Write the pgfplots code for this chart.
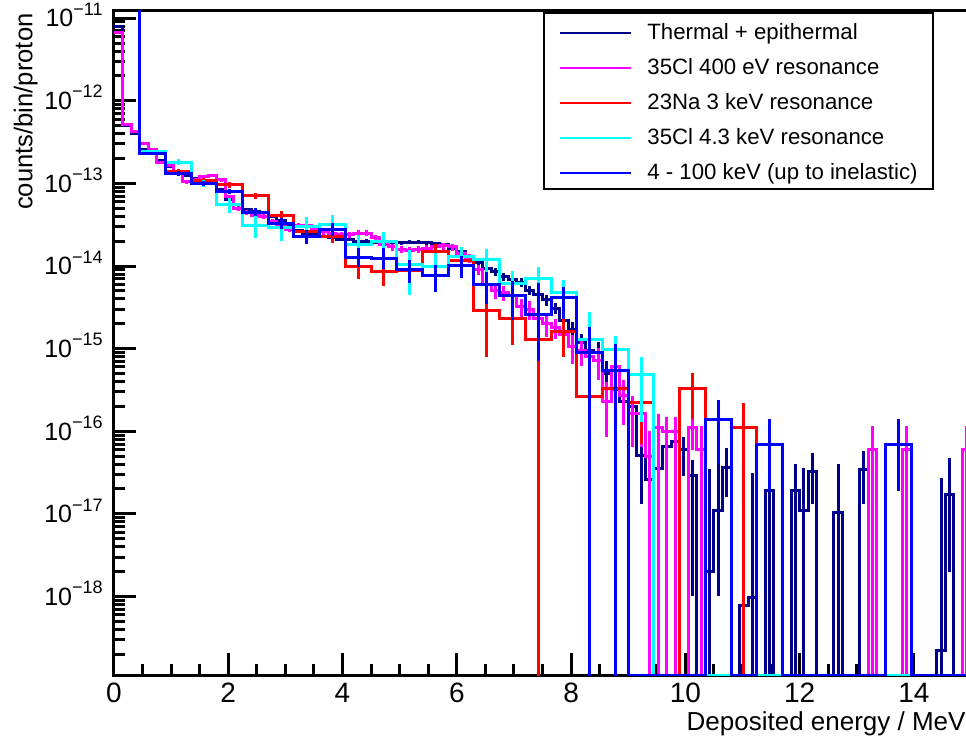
\documentclass[border=0pt]{standalone}
\usepackage{fontspec}
\setmainfont{Liberation Sans}
\usepackage{pgfplots}
\usepackage{pgfplotstable}
\pgfplotsset{compat=1.18}
\definecolor{navyc}{RGB}{0,0,140}
\definecolor{magc}{RGB}{255,0,255}
\definecolor{redc}{RGB}{255,0,0}
\definecolor{cyanc}{RGB}{0,255,255}
\definecolor{bluec}{RGB}{0,0,255}
\newcommand\sups[1]{\raisebox{5.8pt}{\fontsize{9}{9}\selectfont #1}}

% 4 - 100 keV (0.45 MeV bins)
\pgfplotstableread{
x y ep em
-0.225 2e-11 0 0
0.225 2e-11 0 0
0.675 2.3e-13 1e-14 1e-14
1.125 1.32e-13 8e-15 8e-15
1.575 1.0e-13 7e-15 7e-15
2.025 8.0e-14 6e-15 6e-15
2.475 4.5e-14 5e-15 5e-15
2.925 3.3e-14 5e-15 5e-15
3.375 2.3e-14 4.5e-15 4.5e-15
3.825 2.8e-14 5e-15 5e-15
4.275 1.26e-14 4e-15 3e-15
4.725 1.23e-14 4e-15 3e-15
5.175 9.1e-15 2.6e-15 2.8e-15
5.625 7.6e-15 2.8e-15 2.8e-15
6.075 1.02e-14 3e-15 3e-15
6.525 6.0e-15 2.5e-15 2.5e-15
6.975 4.4e-15 2.2e-15 2.2e-15
7.425 2.6e-15 3.6e-15 1.9e-15
7.875 4.1e-15 1.5e-15 1.8e-15
8.325 9.1e-16 9e-16 9.0999e-16
8.775 5.5e-16 6e-16 5.4999e-16
9.225 1.12e-19 0 0
9.675 1.12e-19 0 0
10.125 1.12e-19 0 0
10.575 1.4e-16 1e-16 1e-16
11.025 1.12e-19 0 0
11.475 6.9e-17 7e-17 5e-17
11.925 1.12e-19 0 0
12.375 1.12e-19 0 0
12.825 1.12e-19 0 0
13.275 1.12e-19 0 0
13.725 6.9e-17 7e-17 5e-17
14.175 1.12e-19 0 0
14.625 1.12e-19 0 0
15.075 1.12e-19 0 0
}\tblblue

% 23Na 3 keV (0.45 MeV bins)
\pgfplotstableread{
x y ep em
-0.225 1.5e-11 0 0
0.225 1.5e-11 0 0
0.675 2.3e-13 1.2e-14 1.2e-14
1.125 1.38e-13 1e-14 1e-14
1.575 1.07e-13 8e-15 8e-15
2.025 9.6e-14 7e-15 7e-15
2.475 7.1e-14 6e-15 6e-15
2.925 4.1e-14 5e-15 5e-15
3.375 2.6e-14 4e-15 4e-15
3.825 2.3e-14 4e-15 4e-15
4.275 1.0e-14 3e-15 3e-15
4.725 8.7e-15 3e-15 3e-15
5.175 8.8e-15 3e-15 3e-15
5.625 1.48e-14 3.5e-15 3.5e-15
6.075 1.15e-14 3e-15 3e-15
6.525 2.9e-15 8e-16 2.1e-15
6.975 2.3e-15 1.2e-15 1.2e-15
7.425 1.3e-15 1.3e-15 1.29999e-15
7.875 1.6e-15 8e-16 8e-16
8.325 2.6e-16 2e-16 2e-16
8.775 3.3e-16 2e-16 2e-16
9.225 2.2e-16 1.5e-16 1.5e-16
9.675 1.12e-19 0 0
10.125 3.3e-16 1.8e-16 1.9e-16
10.575 1.12e-19 0 0
11.025 1.1e-16 1.1e-16 1.0999e-16
11.475 1.12e-19 0 0
11.925 1.12e-19 0 0
12.375 1.12e-19 0 0
12.825 1.12e-19 0 0
13.275 1.12e-19 0 0
13.725 1.12e-19 0 0
14.175 1.12e-19 0 0
14.625 1.12e-19 0 0
15.075 1.12e-19 0 0
}\tblred

% 35Cl 4.3 keV (0.45 MeV bins)
\pgfplotstableread{
x y ep em
-0.225 1.5e-11 0 0
0.225 1.5e-11 0 0
0.675 2.4e-13 1.5e-14 1.5e-14
1.125 1.8e-13 1.5e-14 1.5e-14
1.575 1.0e-13 1e-14 1e-14
2.025 5.6e-14 1e-14 1.2e-14
2.475 3.1e-14 1e-14 9e-15
2.925 2.9e-14 9e-15 9e-15
3.375 3.0e-14 9e-15 9e-15
3.825 3.2e-14 9e-15 9e-15
4.275 1.8e-14 6e-15 6e-15
4.725 2.0e-14 6e-15 6e-15
5.175 1.05e-14 5e-15 6e-15
5.625 1.0e-14 4.5e-15 4.5e-15
6.075 1.3e-14 4e-15 4e-15
6.525 1.2e-14 4e-15 4e-15
6.975 6.2e-15 2.5e-15 2.5e-15
7.425 7.1e-15 2.5e-15 2.5e-15
7.875 4.8e-15 2e-15 2e-15
8.325 1.3e-15 1.5e-15 1.1e-15
8.775 9.8e-16 4.5e-16 4.5e-16
9.225 4.9e-16 3e-16 3.6e-16
9.675 1.12e-19 0 0
10.125 1.12e-19 0 0
10.575 1.12e-19 0 0
11.025 1.12e-19 0 0
11.475 1.12e-19 0 0
11.925 1.12e-19 0 0
12.375 1.12e-19 0 0
12.825 1.12e-19 0 0
13.275 1.12e-19 0 0
13.725 1.12e-19 0 0
14.175 1.12e-19 0 0
14.625 1.12e-19 0 0
15.075 1.12e-19 0 0
}\tblcyan

% Thermal + epithermal (0.15 MeV bins)
\pgfplotstableread{
x y ep em
-0.075 8e-12 0 0
0.075 8e-12 0 0
0.225 5e-13 1e-14 1e-14
0.375 4e-13 1e-14 1e-14
0.525 2.6e-13 8e-15 8e-15
0.675 2.3e-13 7e-15 7e-15
0.825 1.9e-13 6e-15 6e-15
0.975 1.6e-13 5e-15 5e-15
1.125 1.4e-13 4e-15 4e-15
1.275 1.25e-13 4e-15 4e-15
1.425 1.15e-13 3.5e-15 3.5e-15
1.575 1.07e-13 3e-15 3e-15
1.725 1.0e-13 3e-15 3e-15
1.875 8.5e-14 2.5e-15 2.5e-15
2.025 6.3e-14 2e-15 2e-15
2.175 5.5e-14 2e-15 2e-15
2.325 4.8e-14 1.5e-15 1.5e-15
2.475 4.6e-14 1.5e-15 1.5e-15
2.625 4.4e-14 1.5e-15 1.5e-15
2.775 4.0e-14 1.5e-15 1.5e-15
2.925 3.6e-14 1.2e-15 1.2e-15
3.075 3.2e-14 1.2e-15 1.2e-15
3.225 2.7e-14 1e-15 1e-15
3.375 2.5e-14 1e-15 1e-15
3.525 2.5e-14 1e-15 1e-15
3.675 2.3e-14 1e-15 1e-15
3.825 2.2e-14 1e-15 1e-15
3.975 2.1e-14 1e-15 1e-15
4.125 2.1e-14 1e-15 1e-15
4.275 2.0e-14 1e-15 1e-15
4.425 2.0e-14 1e-15 1e-15
4.575 1.95e-14 1e-15 1e-15
4.725 1.95e-14 1e-15 1e-15
4.875 1.95e-14 1e-15 1e-15
5.025 1.9e-14 1e-15 1e-15
5.175 1.95e-14 1e-15 1e-15
5.325 1.95e-14 1e-15 1e-15
5.475 1.9e-14 1e-15 1e-15
5.625 1.85e-14 1e-15 1e-15
5.775 1.8e-14 1e-15 1e-15
5.925 1.65e-14 1e-15 1e-15
6.075 1.5e-14 1e-15 1e-15
6.225 1.2e-14 1e-15 1e-15
6.375 1.1e-14 1e-15 1e-15
6.525 9.3e-15 9e-16 9e-16
6.675 8.5e-15 9e-16 9e-16
6.825 7.4e-15 8e-16 8e-16
6.975 6.8e-15 8e-16 8e-16
7.125 6.4e-15 8e-16 8e-16
7.275 5.1e-15 7e-16 7e-16
7.425 4.5e-15 7e-16 7e-16
7.575 3.9e-15 6e-16 6e-16
7.725 3.1e-15 5e-16 5e-16
7.875 2.2e-15 4e-16 4e-16
8.025 1.7e-15 4e-16 4e-16
8.175 1.2e-15 3e-16 3e-16
8.325 9.6e-16 3e-16 3e-16
8.475 9e-16 3e-16 3e-16
8.625 5e-16 2e-16 2e-16
8.775 3.2e-16 1.5e-16 1.5e-16
8.925 2.3e-16 1e-16 1e-16
9.075 2e-16 6e-17 6e-17
9.225 5.1e-17 2e-17 3.8e-17
9.375 2.6e-17 2.5e-17 2.5999e-17
9.525 3.5e-17 2e-17 3.3e-17
9.675 6.6e-17 3e-17 3e-17
9.825 7.6e-17 3e-17 3e-17
9.975 6e-17 2.5e-17 3.1e-17
10.125 2.9e-17 1.6e-17 2.8e-17
10.275 1.12e-19 0 0
10.425 2e-18 3.3e-17 1.9999e-18
10.575 1.1e-17 3e-17 1e-17
10.725 3.6e-17 2.6e-17 2e-17
10.875 1.12e-19 0 0
11.025 7.8e-19 2e-17 7.7999e-19
11.175 9.7e-19 3e-17 9.6999e-19
11.325 1.12e-19 0 0
11.475 1.9e-17 3e-17 1.8999e-17
11.625 1.12e-19 0 0
11.775 1.12e-19 0 0
11.925 1.9e-17 2.1e-17 1.8999e-17
12.075 1.1e-17 2.5e-17 1.0999e-17
12.225 3.3e-17 2.1e-17 2e-17
12.375 1.12e-19 0 0
12.525 1.12e-19 0 0
12.675 1.05e-17 3e-17 1.0499e-17
12.825 1.12e-19 0 0
12.975 1.12e-19 0 0
13.125 3.4e-17 2.4e-17 2.1e-17
13.275 1.12e-19 0 0
13.425 1.12e-19 0 0
13.575 1.12e-19 0 0
13.725 1.12e-19 0 0
13.875 1.12e-19 0 0
14.025 1.12e-19 0 0
14.175 1.12e-19 0 0
14.325 1.12e-19 0 0
14.475 2.2e-19 2.7e-17 2.1999e-19
14.625 1.7e-17 3e-17 1.5e-17
14.775 1.12e-19 0 0
14.925 1.12e-19 0 0
15.075 1.12e-19 0 0
}\tblnavy

% 35Cl 400 eV (0.15 MeV bins)
\pgfplotstableread{
x y ep em
-0.075 6.7e-12 0 0
0.075 6.7e-12 1e-13 1e-13
0.225 5.1e-13 1.5e-14 1.5e-14
0.375 4.2e-13 1.3e-14 1.3e-14
0.525 3.0e-13 1e-14 1e-14
0.675 2.6e-13 9e-15 9e-15
0.825 1.8e-13 8e-15 8e-15
0.975 1.65e-13 8e-15 8e-15
1.125 1.3e-13 7e-15 7e-15
1.275 1.05e-13 6e-15 6e-15
1.425 1.1e-13 6e-15 6e-15
1.575 1.2e-13 6e-15 6e-15
1.725 1.25e-13 6e-15 6e-15
1.875 1.1e-13 6e-15 6e-15
2.025 6.9e-14 4e-15 4e-15
2.175 5.0e-14 3.5e-15 3.5e-15
2.325 4.4e-14 3e-15 3e-15
2.475 4.1e-14 3e-15 3e-15
2.625 4.0e-14 3e-15 3e-15
2.775 3.5e-14 2.5e-15 2.5e-15
2.925 3.2e-14 2.5e-15 2.5e-15
3.075 2.8e-14 2e-15 2e-15
3.225 3.1e-14 2.3e-15 2.3e-15
3.375 3.1e-14 2.3e-15 2.3e-15
3.525 2.8e-14 2e-15 2e-15
3.675 2.6e-14 2e-15 2e-15
3.825 2.5e-14 2e-15 2e-15
3.975 2.4e-14 2e-15 2e-15
4.125 2.4e-14 2e-15 2e-15
4.275 2.5e-14 2e-15 2e-15
4.425 2.5e-14 2e-15 2e-15
4.575 2.2e-14 2e-15 2e-15
4.725 1.8e-14 1.8e-15 1.8e-15
4.875 1.7e-14 1.7e-15 1.7e-15
5.025 1.6e-14 1.6e-15 1.6e-15
5.175 1.55e-14 1.6e-15 1.6e-15
5.325 1.6e-14 1.6e-15 1.6e-15
5.475 1.65e-14 1.6e-15 1.6e-15
5.625 1.7e-14 1.7e-15 1.7e-15
5.775 1.75e-14 1.7e-15 1.7e-15
5.925 1.7e-14 1.7e-15 1.7e-15
6.075 1.4e-14 1.6e-15 1.6e-15
6.225 1.25e-14 1.5e-15 1.5e-15
6.375 9e-15 1.3e-15 1.3e-15
6.525 6e-15 1.1e-15 1.1e-15
6.675 5e-15 1e-15 1e-15
6.825 4.8e-15 1e-15 1e-15
6.975 4.4e-15 9e-16 9e-16
7.125 3.2e-15 8e-16 8e-16
7.275 3.0e-15 8e-16 8e-16
7.425 2.3e-15 6e-16 6e-16
7.575 2.0e-15 6e-16 6e-16
7.725 1.8e-15 5e-16 5e-16
7.875 1.5e-15 4.5e-16 4.5e-16
8.025 1.05e-15 4e-16 4e-16
8.175 9.6e-16 3.5e-16 3.5e-16
8.325 8e-16 3e-16 3e-16
8.475 7.2e-16 3e-16 3e-16
8.625 2.3e-16 1.6e-16 1.45e-16
8.775 6e-16 2.5e-16 2.5e-16
8.925 2.7e-16 1.5e-16 1.5e-16
9.075 1.65e-16 1e-16 1e-16
9.225 1.65e-16 1e-16 1e-16
9.375 5e-17 5e-17 4.9999e-17
9.525 1.1e-16 5e-17 1.0999e-16
9.675 1.0e-16 5e-17 9.9999e-17
9.825 1.0e-16 5e-17 9.9999e-17
9.975 1.12e-19 0 0
10.125 1.1e-16 5e-17 5e-17
10.275 6e-17 5.5e-17 5.9999e-17
10.425 1.12e-19 0 0
10.575 1.12e-19 0 0
10.725 1.12e-19 0 0
10.875 1.12e-19 0 0
11.025 1.12e-19 0 0
11.175 1.12e-19 0 0
11.325 1.12e-19 0 0
11.475 1.12e-19 0 0
11.625 1.12e-19 0 0
11.775 1.12e-19 0 0
11.925 1.12e-19 0 0
12.075 1.12e-19 0 0
12.225 1.12e-19 0 0
12.375 1.12e-19 0 0
12.525 1.12e-19 0 0
12.675 1.12e-19 0 0
12.825 1.12e-19 0 0
12.975 1.12e-19 0 0
13.125 1.12e-19 0 0
13.275 6e-17 5.5e-17 5.9999e-17
13.425 1.12e-19 0 0
13.575 1.12e-19 0 0
13.725 1.12e-19 0 0
13.875 6e-17 5.5e-17 5.9999e-17
14.025 1.12e-19 0 0
14.175 1.12e-19 0 0
14.325 1.12e-19 0 0
14.475 1.12e-19 0 0
14.625 1.12e-19 0 0
14.775 1.12e-19 0 0
14.925 6e-17 5.5e-17 5.9999e-17
15.075 1.12e-19 0 0
}\tblmag

\pgfplotsset{
  hist/.style={const plot mark mid, mark=none, line width=1.5pt, forget plot,
    error bars/y dir=both, error bars/y explicit, error bars/error mark=none,
    error bars/error bar style={line width=1.5pt, solid}},
}

\begin{document}
\begin{tikzpicture}
\useasboundingbox (0,0) rectangle (483pt,370.5pt);
\begin{axis}[
  at={(57pt,33pt)}, anchor=south west,
  scale only axis, width=428.5pt, height=332.15pt,
  xmin=0, xmax=15,
  ymode=log, ymin=1.12e-19, ymax=1.23e-11,
  axis line style={line width=1.5pt, black},
  every tick/.style={black, line width=1.5pt},
  tick align=inside,
  xtick pos=bottom, ytick pos=left,
  major tick length=11pt, minor tick length=5.5pt,
  xtick={0,2,4,6,8,10,12,14},
  minor x tick num=3,
  ytick={1e-18,1e-17,1e-16,1e-15,1e-14,1e-13,1e-12,1e-11},
  yticklabels={10\sups{−18},10\sups{−17},10\sups{−16},10\sups{−15},10\sups{−14},10\sups{−13},10\sups{−12},10\sups{−11}},
  minor ytick={2e-19,3e-19,4e-19,5e-19,6e-19,7e-19,8e-19,9e-19,
    2e-18,3e-18,4e-18,5e-18,6e-18,7e-18,8e-18,9e-18,
    2e-17,3e-17,4e-17,5e-17,6e-17,7e-17,8e-17,9e-17,
    2e-16,3e-16,4e-16,5e-16,6e-16,7e-16,8e-16,9e-16,
    2e-15,3e-15,4e-15,5e-15,6e-15,7e-15,8e-15,9e-15,
    2e-14,3e-14,4e-14,5e-14,6e-14,7e-14,8e-14,9e-14,
    2e-13,3e-13,4e-13,5e-13,6e-13,7e-13,8e-13,9e-13,
    2e-12,3e-12,4e-12,5e-12,6e-12,7e-12,8e-12,9e-12},
  /pgf/number format/assume math mode=true,
  xticklabel style={font=\fontsize{14}{14}\selectfont, anchor=north, inner sep=0pt, yshift=-4pt},
  yticklabel style={font=\fontsize{12.5}{12.5}\selectfont, anchor=base east, inner sep=0pt, xshift=-5.5pt, yshift=-4.4pt},
  xlabel={Deposited energy / MeV},
  xlabel style={at={(axis description cs:1,0)}, anchor=base east, xshift=-2.5pt, yshift=-27.5pt, inner sep=0pt, font=\fontsize{13}{13}\selectfont},
  ylabel={counts/bin/proton},
  ylabel style={at={(axis description cs:-0.0953,0.9965)}, anchor=base east, inner sep=0pt, font=\fontsize{12.8}{12.8}\selectfont},
  legend image code/.code={\draw[#1] (0pt,-1.2pt) -- (35.5pt,-1.2pt);},
  legend cell align=left,
  legend style={at={(axis description cs:0.5006,0.9985)}, anchor=north west,
    draw=black, line width=1pt, fill=white,
    font=\fontsize{11.1}{13}\selectfont,
    inner xsep=7.5pt, inner ysep=4.5pt, row sep=8.5pt,
    nodes={inner sep=0pt, text height=9pt, text depth=0pt},
    /tikz/every odd column/.append style={column sep=7.5pt}},
]
\addplot[navyc, hist] table[x=x, y=y, y error plus=ep, y error minus=em] {\tblnavy};
\addplot[magc, hist] table[x=x, y=y, y error plus=ep, y error minus=em] {\tblmag};
\addplot[redc, hist] table[x=x, y=y, y error plus=ep, y error minus=em] {\tblred};
\addplot[cyanc, hist] table[x=x, y=y, y error plus=ep, y error minus=em] {\tblcyan};
\addplot[bluec, hist] table[x=x, y=y, y error plus=ep, y error minus=em] {\tblblue};
\addlegendimage{navyc, line width=1.2pt}
\addlegendentry{Thermal + epithermal}
\addlegendimage{magc, line width=1.2pt}
\addlegendentry{35Cl 400 eV resonance}
\addlegendimage{redc, line width=1.2pt}
\addlegendentry{23Na 3 keV resonance}
\addlegendimage{cyanc, line width=1.2pt}
\addlegendentry{35Cl 4.3 keV resonance}
\addlegendimage{bluec, line width=1.2pt}
\addlegendentry{4 - 100 keV (up to inelastic)\hspace{17.5pt}}
\end{axis}
\end{tikzpicture}
\end{document}
